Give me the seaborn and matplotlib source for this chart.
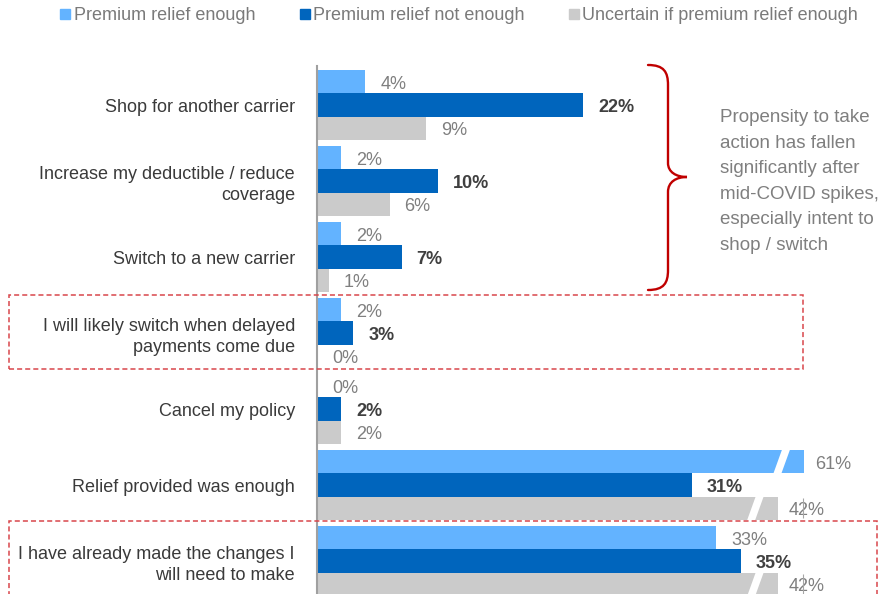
import numpy as np
import pandas as pd
import matplotlib
matplotlib.use("Agg")
import matplotlib.pyplot as plt
from matplotlib.patches import Polygon, Rectangle, PathPatch
from matplotlib.path import Path
from matplotlib.lines import Line2D
import seaborn as sns

# ---------------- data ----------------
categories = [
    "Shop for another carrier",
    "Increase my deductible / reduce\ncoverage",
    "Switch to a new carrier",
    "I will likely switch when delayed\npayments come due",
    "Cancel my policy",
    "Relief provided was enough",
    "I have already made the changes I\nwill need to make",
]
series_names = [
    "Premium relief enough",
    "Premium relief not enough",
    "Uncertain if premium relief enough",
]
relief_enough = [4, 2, 2, 2, 0, 61, 33]
relief_not_enough = [22, 10, 7, 3, 2, 31, 35]
uncertain = [9, 6, 1, 0, 2, 42, 42]

colors = ["#63B3FF", "#0065BD", "#CBCBCB"]
label_colors = ["#7F7F7F", "#404040", "#7F7F7F"]
label_weights = ["normal", "bold", "normal"]

BREAK_AT = 36  # values above this are drawn on a broken (compressed) scale


def shown(v):
    v = np.asarray(v, dtype=float)
    return np.where(v > BREAK_AT, BREAK_AT + 0.85 * np.sqrt(np.clip(v - BREAK_AT, 0, None)), v)


values = [relief_enough, relief_not_enough, uncertain]
rows = []
for s, vals in zip(series_names, values):
    for c, v in zip(categories, vals):
        rows.append({"category": c, "series": s, "value": v, "shown": float(shown(v))})
df = pd.DataFrame(rows)

# ---------------- figure ----------------
sns.set_theme(style="white")
plt.rcParams["font.family"] = ["Liberation Sans", "DejaVu Sans"]

W, H = 894, 594
fig = plt.figure(figsize=(W / 100, H / 100), dpi=100)
ax_left, ax_top = 317, 66
ax = fig.add_axes([ax_left / W, 0, (W - ax_left) / W, (H - ax_top) / H])

sns.barplot(
    data=df, y="category", x="shown", hue="series", order=categories,
    hue_order=series_names, palette=colors, orient="h", width=0.92,
    dodge=True, saturation=1, legend=False, linewidth=0, ax=ax,
)

px_per_unit = 12.1
pitch = 76.0
c0 = 105.0
ax.set_xlim(0, (W - ax_left) / px_per_unit)
ax.set_ylim((H - c0) / pitch, (ax_top - c0) / pitch)

# value labels
off_pt = 15 * 72 / 100
for k, cont in enumerate(ax.containers):
    for i, p in enumerate(cont.patches):
        v = values[k][i]
        yc = p.get_y() + p.get_height() / 2
        xe = p.get_width()
        dx = off_pt if v <= BREAK_AT else 11 * 72 / 100
        ax.annotate(f"{v}%", xy=(xe, yc), xytext=(dx, -1.8), textcoords="offset points",
                    ha="left", va="center", fontsize=13, color=label_colors[k],
                    fontweight=label_weights[k], zorder=5)
        if v > BREAK_AT:
            h = p.get_height()
            gc = xe - 1.85
            gw = 0.33
            sl = 0.37
            y_bot = yc + h / 2 + 0.01
            y_top = yc - h / 2 - 0.01
            ax.add_patch(Polygon([
                (gc - gw - sl, y_bot), (gc + gw - sl, y_bot),
                (gc + gw + sl, y_top), (gc - gw + sl, y_top)],
                closed=True, facecolor="white", edgecolor="none", zorder=4))
            if k == 2:
                xm = float(shown(max(relief_enough)))
                ax.vlines(xm - 0.1, yc - h / 2 + 0.02, yc + h / 2 - 0.02,
                          color="#A6A6A6", lw=0.8, zorder=6)

# axes styling
for s in ["top", "right", "bottom"]:
    ax.spines[s].set_visible(False)
ax.spines["left"].set_color("#A0A0A0")
ax.spines["left"].set_linewidth(1.5)
ax.set_xlabel("")
ax.set_ylabel("")
ax.set_xticks([])
ax.set_yticks(range(len(categories)))
ax.set_yticklabels(categories)
ax.set_yticks(np.arange(-0.5, len(categories) - 0.5, 1.0), minor=True)
ax.tick_params(axis="y", which="major", length=0, pad=22 * 72 / 100,
               labelsize=13, labelcolor="#3A3A3A")
ax.tick_params(axis="y", which="minor", length=3, width=1, color="#A0A0A0", direction="out")
for t in ax.get_yticklabels():
    t.set_linespacing(1.3)
ax.grid(False)


def fx(px):
    return px / W


def fy(py):
    return 1 - py / H


# legend
handles = [Line2D([0], [0], marker="s", linestyle="none", markersize=7.2,
                  markerfacecolor=c, markeredgecolor=c) for c in colors]
fig.legend(handles, series_names, loc="center left", bbox_to_anchor=(fx(60), fy(15.5)),
           ncol=3, frameon=False, fontsize=13, labelcolor="#7A7A7A",
           handlelength=0.6, handleheight=0.6, handletextpad=0.15,
           columnspacing=2.45, borderpad=0, borderaxespad=0)

# red dashed boxes
dash_col = "#D9464B"
for (x0, y0, x1, y1) in [(9, 295, 803, 369), (9, 521, 877, 610)]:
    fig.add_artist(Rectangle((fx(x0), fy(y1)), fx(x1) - fx(x0), fy(y0) - fy(y1),
                             transform=fig.transFigure, fill=False, edgecolor=dash_col,
                             linewidth=1.1, linestyle=(0, (3.3, 2.0)), clip_on=False))

# curly brace
pts = [(648, 65), (664, 65), (668, 72), (668, 85),
       (668, 163),
       (668, 172), (676, 177), (687, 177),
       (676, 177), (668, 182), (668, 192),
       (668, 270),
       (668, 283), (664, 290), (648, 290)]
codes = [Path.MOVETO, Path.CURVE4, Path.CURVE4, Path.CURVE4,
         Path.LINETO,
         Path.CURVE4, Path.CURVE4, Path.CURVE4,
         Path.CURVE4, Path.CURVE4, Path.CURVE4,
         Path.LINETO,
         Path.CURVE4, Path.CURVE4, Path.CURVE4]
brace = Path([(fx(x), fy(y)) for x, y in pts], codes)
fig.add_artist(PathPatch(brace, transform=fig.transFigure, fill=False,
                         edgecolor="#C00000", linewidth=1.7, capstyle="round"))

note_lines = ["Propensity to take", "action has fallen", "significantly after",
              "mid-COVID spikes,", "especially intent to", "shop / switch"]
for j, line in enumerate(note_lines):
    fig.text(fx(720), fy(122 + 25.6 * j), line, ha="left", va="baseline",
             fontsize=13.5, color="#7F7F7F")

fig.savefig("out.png", dpi=100)
